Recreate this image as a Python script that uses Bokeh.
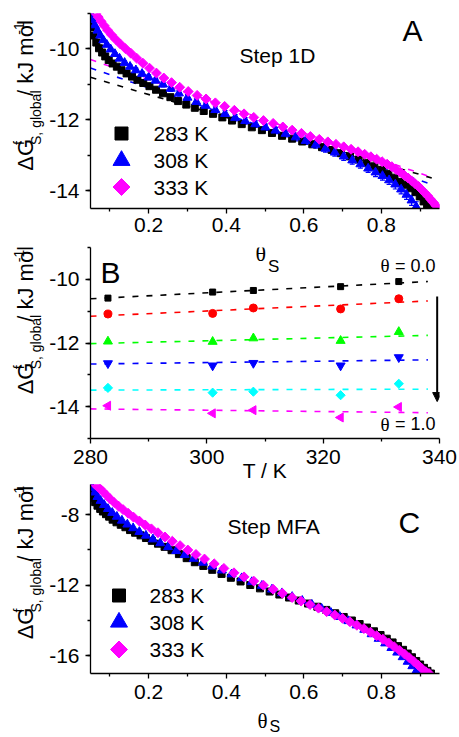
import numpy as np
from bokeh.plotting import figure
from bokeh.layouts import column, row
from bokeh.models import (Label, FixedTicker, PrintfTickFormatter, ColumnDataSource,
                          Whisker, TeeHead, Arrow, NormalHead, Range1d)
from bokeh.embed import file_html
from bokeh.resources import INLINE

# ---------------- Panel A (Step 1D) ----------------
A283_theta = [0.052, 0.058, 0.065, 0.072, 0.080, 0.088, 0.097, 0.107, 0.118, 0.130,
              0.143, 0.157, 0.171, 0.186, 0.202, 0.219, 0.237, 0.256, 0.276, 0.297,
              0.319, 0.342, 0.366, 0.390, 0.415, 0.440, 0.466, 0.492, 0.518, 0.544,
              0.570, 0.596, 0.622, 0.647, 0.672, 0.696, 0.719, 0.741, 0.762, 0.782,
              0.801, 0.818, 0.834, 0.849, 0.863, 0.876, 0.888, 0.899, 0.909, 0.918, 0.926]
A283_dg = [-9.38, -9.62, -9.82, -9.98, -10.10, -10.21, -10.31, -10.41, -10.50, -10.60,
           -10.69, -10.78, -10.87, -10.96, -11.05, -11.15, -11.25, -11.36, -11.47, -11.57,
           -11.66, -11.75, -11.83, -11.93, -12.02, -12.12, -12.21, -12.29, -12.37, -12.45,
           -12.53, -12.61, -12.69, -12.77, -12.85, -12.94, -13.03, -13.12, -13.21, -13.31,
           -13.41, -13.52, -13.63, -13.75, -13.83, -13.93, -14.04, -14.16, -14.30, -14.42, -14.55]

A308_theta = [0.050, 0.055, 0.061, 0.068, 0.075, 0.083, 0.092, 0.102, 0.113, 0.125,
              0.138, 0.152, 0.167, 0.183, 0.200, 0.218, 0.237, 0.257, 0.278, 0.300,
              0.323, 0.347, 0.372, 0.397, 0.423, 0.449, 0.475, 0.501, 0.527, 0.553,
              0.579, 0.605, 0.631, 0.656, 0.680, 0.703, 0.725, 0.746, 0.766, 0.785,
              0.803, 0.820, 0.836, 0.851, 0.865, 0.878, 0.890]
A308_dg = [-9.00, -9.18, -9.33, -9.48, -9.62, -9.75, -9.88, -10.01, -10.14, -10.27,
           -10.39, -10.50, -10.60, -10.70, -10.80, -10.89, -11.00, -11.12, -11.25, -11.37,
           -11.49, -11.60, -11.72, -11.83, -11.94, -12.03, -12.12, -12.21, -12.30, -12.39,
           -12.49, -12.59, -12.70, -12.81, -12.92, -13.03, -13.14, -13.25, -13.37, -13.48,
           -13.58, -13.70, -13.82, -13.96, -14.11, -14.27, -14.45]
A308_err = [0.04, 0.04, 0.04, 0.04, 0.04, 0.04, 0.04, 0.04, 0.04, 0.04,
            0.05, 0.05, 0.06, 0.06, 0.07, 0.07, 0.07, 0.08, 0.08, 0.08,
            0.08, 0.08, 0.09, 0.09, 0.09, 0.09, 0.09, 0.09, 0.09, 0.09,
            0.10, 0.10, 0.10, 0.10, 0.10, 0.11, 0.11, 0.11, 0.11, 0.12,
            0.12, 0.12, 0.13, 0.13, 0.13, 0.14, 0.14]

A333_theta = [0.064, 0.070, 0.077, 0.085, 0.094, 0.104, 0.115, 0.127, 0.140, 0.154,
              0.169, 0.185, 0.202, 0.220, 0.239, 0.259, 0.280, 0.302, 0.325, 0.348,
              0.372, 0.396, 0.421, 0.446, 0.471, 0.496, 0.521, 0.546, 0.570, 0.594,
              0.617, 0.640, 0.662, 0.683, 0.703, 0.722, 0.740, 0.757, 0.773, 0.788,
              0.802, 0.815, 0.827, 0.838, 0.849, 0.859, 0.869, 0.878, 0.887, 0.896,
              0.904, 0.912, 0.920, 0.927, 0.934, 0.941, 0.947]
A333_dg = [-9.00, -9.10, -9.22, -9.34, -9.47, -9.60, -9.73, -9.86, -9.99, -10.12,
           -10.26, -10.40, -10.54, -10.68, -10.82, -10.95, -11.08, -11.20, -11.31, -11.41,
           -11.52, -11.62, -11.73, -11.83, -11.93, -12.02, -12.10, -12.20, -12.29, -12.38,
           -12.47, -12.55, -12.62, -12.69, -12.76, -12.83, -12.90, -12.97, -13.04, -13.11,
           -13.18, -13.25, -13.32, -13.40, -13.48, -13.56, -13.64, -13.72, -13.80, -13.88,
           -13.97, -14.06, -14.15, -14.24, -14.33, -14.42, -14.51]

# linear fits (dashed), given by their end points
A_fit_theta = [0.05, 0.93]
A_fit_283 = [-10.80, -13.64]
A_fit_308 = [-10.54, -13.82]
A_fit_333 = [-10.30, -13.62]

# ---------------- Panel B ----------------
B_T = [283, 301, 308, 323, 333]
B_theta00 = [-10.59, -10.40, -10.35, -10.23, -10.07]
B_theta02 = [-11.09, -11.07, -10.90, -10.93, -10.61]
B_theta04 = [-11.95, -11.96, -11.85, -11.93, -11.65]
B_theta06 = [-12.64, -12.71, -12.63, -12.71, -12.45]
B_theta08 = [-13.41, -13.56, -13.53, -13.64, -13.28]
B_theta10 = [-13.97, -14.21, -14.11, -14.34, -14.01]
B_fit_T = [280, 338]
B_fit = [[-10.61, -10.07], [-11.16, -10.68], [-12.02, -11.76],
         [-12.66, -12.53], [-13.48, -13.45], [-14.07, -14.19]]

# ---------------- Panel C (Step MFA) ----------------
C283_theta = [0.052, 0.057, 0.062, 0.068, 0.075, 0.082, 0.090, 0.098, 0.107, 0.117,
              0.128, 0.140, 0.152, 0.165, 0.179, 0.193, 0.208, 0.224, 0.241, 0.259,
              0.278, 0.298, 0.319, 0.341, 0.364, 0.388, 0.412, 0.437, 0.462, 0.487,
              0.512, 0.537, 0.562, 0.587, 0.611, 0.635, 0.658, 0.681, 0.703, 0.724,
              0.744, 0.763, 0.781, 0.798, 0.814, 0.829, 0.843, 0.856, 0.868, 0.879,
              0.890, 0.900, 0.910, 0.919, 0.928]
C283_dg = [-6.75, -7.05, -7.30, -7.50, -7.68, -7.83, -7.98, -8.12, -8.29, -8.44,
           -8.58, -8.72, -8.88, -9.03, -9.18, -9.33, -9.49, -9.65, -9.83, -10.02,
           -10.24, -10.47, -10.70, -10.91, -11.13, -11.36, -11.58, -11.79, -11.99, -12.18,
           -12.36, -12.53, -12.70, -12.87, -13.04, -13.22, -13.40, -13.59, -13.80, -14.00,
           -14.20, -14.40, -14.61, -14.82, -15.03, -15.24, -15.45, -15.66, -15.87, -16.08,
           -16.29, -16.49, -16.68, -16.85, -17.00]

C308_theta = [0.050, 0.055, 0.061, 0.068, 0.076, 0.085, 0.095, 0.106, 0.118, 0.131,
              0.145, 0.160, 0.176, 0.193, 0.211, 0.230, 0.250, 0.271, 0.293, 0.316,
              0.340, 0.364, 0.389, 0.414, 0.440, 0.466, 0.492, 0.518, 0.544, 0.570,
              0.596, 0.621, 0.646, 0.670, 0.693, 0.715, 0.736, 0.756, 0.775, 0.793,
              0.810, 0.826, 0.841, 0.855, 0.868, 0.880, 0.891, 0.901]
C308_dg = [-6.30, -6.50, -6.75, -7.00, -7.22, -7.45, -7.68, -7.90, -8.12, -8.34,
           -8.56, -8.77, -8.98, -9.19, -9.40, -9.62, -9.84, -10.06, -10.28, -10.50,
           -10.72, -10.94, -11.16, -11.38, -11.60, -11.82, -12.03, -12.24, -12.45, -12.66,
           -12.88, -13.10, -13.33, -13.56, -13.79, -14.03, -14.27, -14.52, -14.77, -15.03,
           -15.29, -15.55, -15.81, -16.07, -16.33, -16.58, -16.82, -17.00]

C333_theta = [0.062, 0.068, 0.075, 0.083, 0.092, 0.101, 0.111, 0.122, 0.134, 0.147,
              0.161, 0.176, 0.191, 0.207, 0.224, 0.242, 0.261, 0.281, 0.301, 0.322,
              0.344, 0.369, 0.394, 0.420, 0.446, 0.471, 0.496, 0.521, 0.545, 0.570,
              0.593, 0.616, 0.638, 0.659, 0.680, 0.700, 0.719, 0.737, 0.755, 0.772,
              0.788, 0.804, 0.819, 0.833, 0.847, 0.860, 0.872, 0.884, 0.895, 0.905,
              0.915, 0.923]
C333_dg = [-6.30, -6.42, -6.55, -6.72, -6.92, -7.12, -7.32, -7.52, -7.72, -7.93,
           -8.15, -8.37, -8.59, -8.81, -9.03, -9.27, -9.51, -9.76, -10.01, -10.26,
           -10.52, -10.79, -11.05, -11.30, -11.53, -11.77, -12.00, -12.23, -12.46, -12.70,
           -12.90, -13.10, -13.30, -13.50, -13.69, -13.88, -14.07, -14.27, -14.46, -14.66,
           -14.86, -15.06, -15.27, -15.48, -15.69, -15.90, -16.11, -16.32, -16.53, -16.73,
           -16.90, -17.00]

LEGEND_LABELS = ["283 K", "308 K", "333 K"]

# ---------------- layout helpers ----------------
SANS = "Liberation Sans"
SERIF = "Liberation Serif"
LAB_W = 46          # width of the strip that carries the rotated y label
MAIN_W = 412
BL, BR = 44, 19     # frame from x=90 to x=439 on the page
MID = 0.35          # distance (in em) from alphabetic baseline to the em-box middle


def to_data(px, py, frame, xr, yr):
    fl, ft, fr, fb = frame
    x = xr[0] + (px - fl) / (fr - fl) * (xr[1] - xr[0])
    y = yr[1] - (py - ft) / (fb - ft) * (yr[1] - yr[0])
    return x, y


def make_fig(height, xr, yr, btop, bbottom):
    p = figure(width=MAIN_W, height=height, x_range=Range1d(*xr), y_range=Range1d(*yr),
               output_backend="svg", toolbar_location=None, title=None,
               min_border_left=BL, min_border_right=BR,
               min_border_top=btop, min_border_bottom=bbottom)
    p.outline_line_color = None
    p.grid.visible = False
    p.background_fill_color = "white"
    p.border_fill_color = "white"
    for ax in (p.xaxis[0], p.yaxis[0]):
        ax.axis_line_width = 1.3
        ax.axis_line_color = "black"
        ax.major_tick_out = 5
        ax.major_tick_in = 0
        ax.minor_tick_out = 3
        ax.minor_tick_in = 0
        ax.major_tick_line_width = 1.3
        ax.minor_tick_line_width = 1.3
        ax.major_tick_line_color = "black"
        ax.minor_tick_line_color = "black"
        ax.major_label_text_font = SANS
        ax.major_label_text_font_size = "21px"
        ax.major_label_text_color = "black"
        ax.major_label_standoff = 6
    return p


def strip(width, height):
    s = figure(width=width, height=height, x_range=Range1d(0, width), y_range=Range1d(0, height),
               output_backend="svg", toolbar_location=None, title=None,
               x_axis_location=None, y_axis_location=None,
               min_border_left=0, min_border_right=0, min_border_top=0, min_border_bottom=0)
    s.outline_line_color = None
    s.grid.visible = False
    s.background_fill_color = "white"
    s.border_fill_color = "white"
    return s


def text(p, frame, xr, yr, px, py, t, size, font=SANS, angle=0.0,
         align="left", color="black"):
    """(px, py) = start of the alphabetic baseline, in page pixels."""
    if angle == 0.0:
        py = py - MID * size
    else:
        px = px - MID * size
    x, y = to_data(px, py, frame, xr, yr)
    p.add_layout(Label(x=x, y=y, text=t, text_font=font, text_font_size=f"{size}px",
                       angle=angle, text_align=align, text_baseline="middle",
                       text_color=color))


def ylabel_strip(top, height, frame_main, shift=-6.5):
    s = strip(LAB_W, height)
    fr = (0, top, LAB_W, top + height)
    xr, yr = (0, LAB_W), (0, height)
    F, sm = 22, 14
    yc = (frame_main[1] + frame_main[3]) / 2 + shift
    L = 1.446 * F + 3.891 * sm + 3.723 * F + 0.889 * sm
    y0 = yc + L / 2
    bx = 33
    a = np.pi / 2
    text(s, fr, xr, yr, bx, y0, "\u0394G", F, angle=a)
    y1 = y0 - 1.446 * F
    text(s, fr, xr, yr, bx - 10, y1, "f", sm, angle=a)
    text(s, fr, xr, yr, bx + 7, y1, "S, global", sm, angle=a)
    y2 = y1 - 3.891 * sm - 0.278 * F
    text(s, fr, xr, yr, bx, y2, "/ kJ mol", F, angle=a)
    y3 = y2 - 3.445 * F
    text(s, fr, xr, yr, bx - 10, y3, "-1", sm, angle=a)
    return s


def theta_s(p, frame, xr, yr, px, py, sy, tsize, ssize):
    text(p, frame, xr, yr, px, py, "\u03b8", tsize, font=SERIF)
    text(p, frame, xr, yr, px + 0.57 * tsize, sy, "S", ssize)


def set_ticks(p, xmaj, xmin, ymaj, ymin, xfmt, yfmt):
    p.xaxis[0].ticker = FixedTicker(ticks=xmaj, minor_ticks=xmin)
    p.yaxis[0].ticker = FixedTicker(ticks=ymaj, minor_ticks=ymin)
    p.xaxis[0].formatter = PrintfTickFormatter(format=xfmt)
    p.yaxis[0].formatter = PrintfTickFormatter(format=yfmt)


def add_legend(p, frame, xr, yr, mx, tx, rows):
    specs = [dict(marker="square", size=13, color="black", angle=0.0),
             dict(marker="triangle", size=17, color="blue", angle=0.0),
             dict(marker="square", size=12, color="magenta", angle=np.pi / 4)]
    for lab, ry, sp in zip(LEGEND_LABELS, rows, specs):
        x, y = to_data(mx, ry, frame, xr, yr)
        p.scatter([x], [y], marker=sp["marker"], size=sp["size"], fill_color=sp["color"],
                  line_color=sp["color"], angle=sp["angle"])
        text(p, frame, xr, yr, tx, ry + 7.5, lab, 21)


DASH = "6 8"

# ================= Panel A =================
A_xr, A_yr = (0.05, 0.95), (-14.5, -9.0)
A_frame = (90, 13, 439, 208)
A_top, A_h = 0, 241
pA = make_fig(A_h, A_xr, A_yr, 13, 33)
pA.xaxis[0].major_label_standoff = 4
set_ticks(pA, [0.2, 0.4, 0.6, 0.8], [0.1, 0.3, 0.5, 0.7, 0.9],
          [-14, -12, -10], [-14, -13, -12, -11, -10, -9], "%.1f", "%d")

for ys, c in ((A_fit_283, "black"), (A_fit_308, "blue"), (A_fit_333, "magenta")):
    pA.line(A_fit_theta, ys, line_color=c, line_width=1.6, line_dash=DASH)

pA.scatter(A283_theta, A283_dg, marker="square", size=7, fill_color="black", line_color="black")
srcA = ColumnDataSource(dict(x=A308_theta, y=A308_dg,
                             lo=[v - e for v, e in zip(A308_dg, A308_err)],
                             hi=[v + e for v, e in zip(A308_dg, A308_err)]))
pA.add_layout(Whisker(source=srcA, base="x", lower="lo", upper="hi", line_color="blue",
                      line_width=1.2,
                      lower_head=TeeHead(size=5, line_color="blue", line_width=1.2),
                      upper_head=TeeHead(size=5, line_color="blue", line_width=1.2)))
pA.scatter("x", "y", source=srcA, marker="triangle", size=9, fill_color="blue", line_color="blue")
pA.scatter(A333_theta, A333_dg, marker="square", size=7, angle=np.pi / 4,
           fill_color="magenta", line_color="magenta")

add_legend(pA, A_frame, A_xr, A_yr, 121, 153, [133, 160, 186.5])
text(pA, A_frame, A_xr, A_yr, 402, 40, "A", 30)
text(pA, A_frame, A_xr, A_yr, 239, 62.5, "Step 1D", 21)
labA = ylabel_strip(A_top, A_h, A_frame)

# ================= Panel B =================
B_xr, B_yr = (280, 340), (-15.0, -9.0)
B_frame = (90, 247, 439, 441)
B_top, B_h = 241, 243
pB = make_fig(B_h, B_xr, B_yr, 6, 43)
set_ticks(pB, [280, 300, 320, 340], [290, 310, 330],
          [-14, -12, -10], [-15, -14, -13, -12, -11, -10, -9], "%d", "%d")
pB.xaxis[0].axis_label = "T / K"
pB.xaxis[0].axis_label_text_font = SANS
pB.xaxis[0].axis_label_text_font_size = "21px"
pB.xaxis[0].axis_label_text_font_style = "normal"
pB.xaxis[0].axis_label_text_color = "black"
pB.xaxis[0].axis_label_standoff = -8

B_series = [B_theta00, B_theta02, B_theta04, B_theta06, B_theta08, B_theta10]
B_colors = ["black", "red", "#00ff00", "blue", "cyan", "magenta"]
B_markers = [("square", 6, 0.0), ("circle", 8, 0.0), ("triangle", 9, 0.0),
             ("inverted_triangle", 9, 0.0), ("square", 6.5, np.pi / 4), ("triangle", 9, np.pi / 2)]
for fit, c in zip(B_fit, B_colors):
    pB.line(B_fit_T, fit, line_color=c, line_width=1.6, line_dash=DASH)
for ys, c, (m, sz, ang) in zip(B_series, B_colors, B_markers):
    pB.scatter(B_T, ys, marker=m, size=sz, angle=ang, fill_color=c, line_color=c)

ARROW_T = 339.6
ARROW_FROM, ARROW_TO = -10.54, -13.84
pB.add_layout(Arrow(x_start=ARROW_T, y_start=ARROW_FROM, x_end=ARROW_T, y_end=ARROW_TO,
                    line_color="black", line_width=2,
                    end=NormalHead(size=9, fill_color="black", line_color="black")))

text(pB, B_frame, B_xr, B_yr, 100, 283, "B", 30)
text(pB, B_frame, B_xr, B_yr, 435, 272, "= 0.0", 18, align="right")
text(pB, B_frame, B_xr, B_yr, 380, 272, "\u03b8", 19, font=SERIF)
text(pB, B_frame, B_xr, B_yr, 435, 433, "= 1.0", 18, align="right")
text(pB, B_frame, B_xr, B_yr, 380, 433, "\u03b8", 19, font=SERIF)
theta_s(pB, B_frame, B_xr, B_yr, 255, 261, 272, 22, 17)   # x label of panel A
labB = ylabel_strip(B_top, B_h, B_frame)

# ================= Panel C =================
C_xr, C_yr = (0.05, 0.95), (-17.0, -6.3)
C_frame = (90, 484, 439, 673)
C_top, C_h = 484, 225
pC = make_fig(C_h, C_xr, C_yr, 0, 36)
set_ticks(pC, [0.2, 0.4, 0.6, 0.8], [0.1, 0.3, 0.5, 0.7, 0.9],
          [-16, -12, -8], [-16, -14, -12, -10, -8], "%.1f", "%d")

pC.scatter(C283_theta, C283_dg, marker="square", size=7, fill_color="black", line_color="black")
pC.scatter(C308_theta, C308_dg, marker="triangle", size=9, fill_color="blue", line_color="blue")
pC.scatter(C333_theta, C333_dg, marker="square", size=7, angle=np.pi / 4,
           fill_color="magenta", line_color="magenta")

add_legend(pC, C_frame, C_xr, C_yr, 118.5, 149, [595, 621.7, 649])
text(pC, C_frame, C_xr, C_yr, 398, 532, "C", 30)
text(pC, C_frame, C_xr, C_yr, 227, 533, "Step MFA", 21)
labC = ylabel_strip(C_top, C_h, C_frame, shift=-0.5)

# x label of panel C in its own strip below
X_top, X_h = 709, 27
xlabC = strip(LAB_W + MAIN_W, X_h)
theta_s(xlabC, (0, X_top, LAB_W + MAIN_W, X_top + X_h), (0, LAB_W + MAIN_W), (0, X_h),
        257, 728, 732, 21, 16)

layout = column(row(labA, pA, spacing=0), row(labB, pB, spacing=0),
                row(labC, pC, spacing=0), xlabC, spacing=0)
open("out.html", "w").write(file_html(layout, INLINE))
